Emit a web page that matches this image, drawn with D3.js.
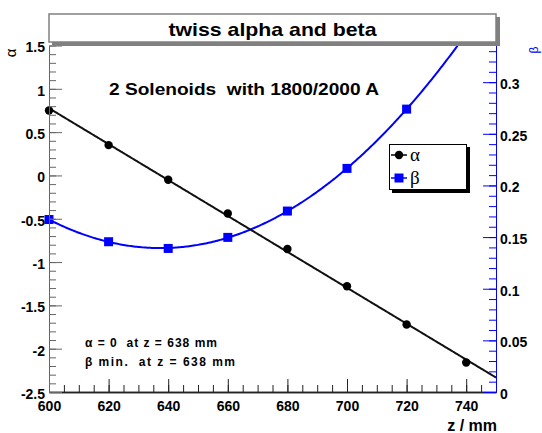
<!DOCTYPE html>
<html><head><meta charset="utf-8">
<script src="https://cdn.jsdelivr.net/npm/d3@7"></script>
<style>html,body{margin:0;padding:0;background:#fff;} svg{display:block;} text{white-space:pre;}</style>
</head><body><svg id="c" width="542" height="433"></svg>
<script>
// ---- data ----
const zValues = [600, 620, 640, 660, 680, 700, 720, 740];
const alphaValues = [0.75, 0.35, -0.05, -0.44, -0.85, -1.28, -1.72, -2.16];
const zBeta = [600, 620, 640, 660, 680, 700, 720];
const betaValues = [0.167, 0.1455, 0.139, 0.1497, 0.1752, 0.2165, 0.2739];
const xDomain = [600, 750];
const alphaDomain = [-2.5, 1.5];
const betaDomain = [0, 0.3355];
const xTicks = [600, 620, 640, 660, 680, 700, 720, 740];
const xTickLabels = ["600", "620", "640", "660", "680", "700", "720", "740"];
const alphaTicks = [-2.5, -2, -1.5, -1, -0.5, 0, 0.5, 1, 1.5];
const alphaTickLabels = ["-2.5", "-2", "-1.5", "-1", "-0.5", "0", "0.5", "1", "1.5"];
const betaTicks = [0, 0.05, 0.1, 0.15, 0.2, 0.25, 0.3];
const betaTickLabels = ["0", "0.05", "0.1", "0.15", "0.2", "0.25", "0.3"];
const titleText = "twiss alpha and beta";
const subtitleText = "2 Solenoids  with 1800/2000 A";
const noteLines = ["\u03b1 = 0  at z = 638 mm", "\u03b2 min.  at z = 638 mm"];
const legendLabels = ["\u03b1", "\u03b2"];
const xTitle = "z / mm";
const alphaTitle = "\u03b1";
const betaTitle = "\u03b2";

// ---- layout ----
const W = 542, H = 433;
const L = 49, R = 496, T = 45.5, B = 392;
const BLUE = "#0000ff";
const FONT = "'Liberation Sans', Arial, Helvetica, sans-serif";
const svg = d3.select("#c");

const x = d3.scaleLinear().domain(xDomain).range([L, R]);
const yA = d3.scaleLinear().domain(alphaDomain).range([B, T]);
const yB = d3.scaleLinear().domain(betaDomain).range([B, T]);

// ---- fits (least squares) ----
function polyFit(xs, ys, deg) {
  const n = deg + 1;
  const A = Array.from({length: n}, () => new Array(n + 1).fill(0));
  xs.forEach((xv, k) => {
    const t = (xv - 670) / 100;
    for (let i = 0; i < n; i++) {
      for (let j = 0; j < n; j++) A[i][j] += Math.pow(t, i + j);
      A[i][n] += Math.pow(t, i) * ys[k];
    }
  });
  for (let i = 0; i < n; i++) {
    let p = i;
    for (let r = i + 1; r < n; r++) if (Math.abs(A[r][i]) > Math.abs(A[p][i])) p = r;
    [A[i], A[p]] = [A[p], A[i]];
    for (let r = 0; r < n; r++) {
      if (r === i) continue;
      const f = A[r][i] / A[i][i];
      for (let c = i; c <= n; c++) A[r][c] -= f * A[i][c];
    }
  }
  const coef = A.map((row, i) => row[n] / row[i]);
  return zv => { const t = (zv - 670) / 100; return coef.reduce((s, c, i) => s + c * Math.pow(t, i), 0); };
}
const alphaFit = polyFit(zValues, alphaValues, 1);
const betaFit = polyFit(zBeta, betaValues, 2);
const zs = d3.range(xDomain[0], xDomain[1] + 0.01, 0.5);

svg.append("defs").append("clipPath").attr("id", "plot")
  .append("rect").attr("x", L).attr("y", T).attr("width", R - L).attr("height", B - T);

// ---- curves ----
const gPlot = svg.append("g").attr("clip-path", "url(#plot)");
gPlot.append("path").datum(zs)
  .attr("d", d3.line().x(d => x(d)).y(d => yB(betaFit(d))))
  .attr("fill", "none").attr("stroke", BLUE).attr("stroke-width", 2);
gPlot.append("path").datum(zs)
  .attr("d", d3.line().x(d => x(d)).y(d => yA(alphaFit(d))))
  .attr("fill", "none").attr("stroke", "#111").attr("stroke-width", 2);

svg.append("g").selectAll("rect").data(zBeta.map((z, i) => [z, betaValues[i]])).join("rect")
  .attr("x", d => x(d[0]) - 4.5).attr("y", d => yB(d[1]) - 4.5)
  .attr("width", 9).attr("height", 9).attr("fill", BLUE);
svg.append("g").selectAll("circle").data(zValues.map((z, i) => [z, alphaValues[i]])).join("circle")
  .attr("cx", d => x(d[0])).attr("cy", d => yA(d[1])).attr("r", 4.2).attr("fill", "#000");

// ---- axes ----
function styleAxis(g, color, labelColor) {
  g.selectAll(".domain").attr("stroke", color);
  g.selectAll(".tick line").attr("stroke", color);
  g.selectAll(".tick text").attr("fill", labelColor)
    .style("font-family", FONT).style("font-weight", "bold").style("font-size", "14px");
}
// minor ticks
const xMinor = d3.range(0, 31).map(i => 600 + i * 5);
const aMinor = d3.range(0, 41).map(i => -2.5 + i * 0.1);
const bMinor = d3.range(0, 34).map(i => i * 0.01);

const gx = svg.append("g").attr("transform", `translate(0,${B})`);
gx.append("g").call(d3.axisBottom(x).tickValues(xMinor).tickSize(-7).tickSizeOuter(0).tickFormat(""))
  .call(g => styleAxis(g, "#222", "#000"));
gx.append("g").call(d3.axisBottom(x).tickValues(xTicks).tickSize(-13).tickSizeOuter(0).tickPadding(9)
  .tickFormat((d, i) => xTickLabels[i]))
  .call(g => styleAxis(g, "#222", "#000"));
gx.selectAll(".domain").attr("stroke-width", 1.6);

const gyA = svg.append("g").attr("transform", `translate(${L},0)`);
gyA.append("g").call(d3.axisLeft(yA).tickValues(aMinor).tickSize(-7).tickSizeOuter(0).tickFormat(""))
  .call(g => styleAxis(g, "#666", "#000"));
gyA.append("g").call(d3.axisLeft(yA).tickValues(alphaTicks).tickSize(-13).tickSizeOuter(0).tickPadding(4)
  .tickFormat((d, i) => alphaTickLabels[i]))
  .call(g => styleAxis(g, "#666", "#000"));
gyA.selectAll(".tick text").attr("dy", "0.45em");

const gyB = svg.append("g").attr("transform", `translate(${R},0)`);
gyB.append("g").call(d3.axisRight(yB).tickValues(bMinor).tickSize(-7).tickSizeOuter(0).tickFormat(""))
  .call(g => styleAxis(g, BLUE, "#000"));
gyB.append("g").call(d3.axisRight(yB).tickValues(betaTicks).tickSize(-13).tickSizeOuter(0).tickPadding(4)
  .tickFormat((d, i) => betaTickLabels[i]))
  .call(g => styleAxis(g, BLUE, "#000"));
gyB.selectAll(".tick text").attr("dy", "0.45em");

// axis titles
svg.append("text").attr("x", R + 1).attr("y", 431).attr("text-anchor", "end")
  .style("font-family", FONT).style("font-weight", "bold").style("font-size", "16px").text(xTitle);
svg.append("text").attr("transform", "translate(16,53) rotate(-90)").attr("text-anchor", "middle")
  .style("font-family", FONT).style("font-size", "15px").text(alphaTitle);
svg.append("text").attr("transform", "translate(538,50) rotate(-90)").attr("text-anchor", "middle")
  .attr("fill", BLUE).style("font-family", FONT).style("font-size", "12px").text(betaTitle);

// ---- title box ----
svg.append("rect").attr("x", L + 3).attr("y", 17).attr("width", R - L + 1).attr("height", 29).attr("fill", "#808080");
svg.append("rect").attr("x", L).attr("y", 14).attr("width", R - L).attr("height", 28)
  .attr("fill", "#fff").attr("stroke", "#808080").attr("stroke-width", 1.5);
svg.append("text").attr("x", (L + R) / 2).attr("y", 36).attr("text-anchor", "middle")
  .attr("textLength", 208).attr("lengthAdjust", "spacingAndGlyphs")
  .style("font-family", FONT).style("font-weight", "bold").style("font-size", "19px").text(titleText);

// ---- subtitle ----
svg.append("text").attr("x", 109).attr("y", 95)
  .attr("textLength", 270).attr("lengthAdjust", "spacingAndGlyphs")
  .style("font-family", FONT).style("font-weight", "bold").style("font-size", "17px").text(subtitleText);

// ---- notes ----
svg.append("g").selectAll("text").data(noteLines).join("text")
  .attr("x", 85).attr("y", (d, i) => 347 + i * 19)
  .attr("textLength", (d, i) => i === 0 ? 132 : 150).attr("lengthAdjust", "spacing")
  .style("font-family", FONT).style("font-weight", "bold").style("font-size", "12px").text(d => d);

// ---- legend ----
const lg = svg.append("g");
lg.append("rect").attr("x", 392).attr("y", 147).attr("width", 78).attr("height", 46).attr("fill", "#000");
lg.append("rect").attr("x", 389.5).attr("y", 144.5).attr("width", 77).attr("height", 45)
  .attr("fill", "#fff").attr("stroke", "#000").attr("stroke-width", 1);
const entries = lg.selectAll("g.e").data(legendLabels).join("g").attr("class", "e")
  .attr("transform", (d, i) => `translate(0,${155 + i * 23})`);
entries.append("line").attr("x1", 391).attr("x2", 407).attr("y1", 0).attr("y2", 0)
  .attr("stroke", (d, i) => i === 0 ? "#000" : BLUE).attr("stroke-width", 1.5);
entries.filter((d, i) => i === 0).append("circle").attr("cx", 399).attr("cy", 0).attr("r", 4.2).attr("fill", "#000");
entries.filter((d, i) => i === 1).append("rect").attr("x", 394.5).attr("y", -4.5).attr("width", 9).attr("height", 9).attr("fill", BLUE);
entries.append("text").attr("x", 410).attr("y", 0).attr("dy", "0.33em")
  .style("font-family", "'Liberation Serif', serif").style("font-size", "19px").text(d => d);
</script></body></html>
